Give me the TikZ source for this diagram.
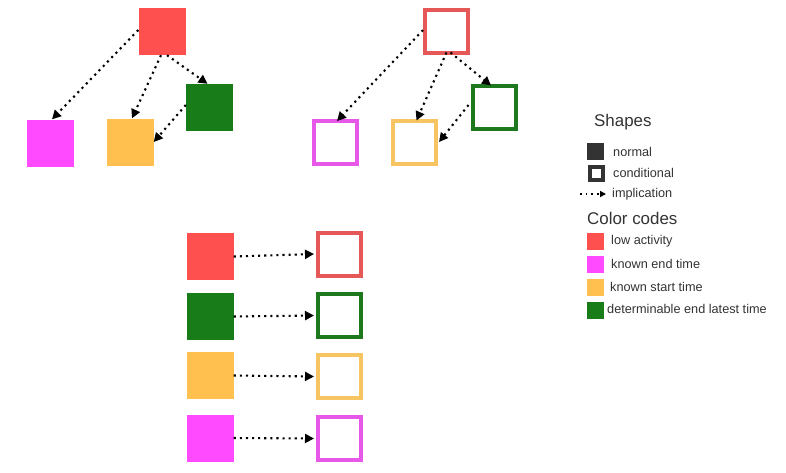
\documentclass[tikz,border=0pt]{standalone}
\usepackage{fontspec}
\setmainfont{Liberation Sans}
\usetikzlibrary{arrows.meta,calc}
\definecolor{cRed}{RGB}{255,80,80}
\definecolor{cRedO}{RGB}{230,88,88}
\definecolor{cMag}{RGB}{255,74,255}
\definecolor{cMagO}{RGB}{232,88,232}
\definecolor{cYel}{RGB}{255,192,80}
\definecolor{cYelO}{RGB}{246,196,96}
\definecolor{cGrn}{RGB}{24,125,24}
\definecolor{cGrnO}{RGB}{30,120,30}
\definecolor{cDark}{RGB}{51,51,51}
\tikzset{
  fillbox/.style={rectangle, minimum size=47pt, inner sep=0pt, fill=#1},
  outbox/.style={rectangle, minimum size=43pt, inner sep=0pt, draw=#1, line width=4pt, fill=white},
  impl/.style={line width=2.1pt, dash pattern=on 2.1pt off 4pt, -{Triangle[length=9pt,width=9pt]}},
  legbox/.style={rectangle, minimum size=17pt, inner sep=0pt, fill=#1},
  legtext/.style={anchor=west, inner sep=0pt, font=\fontsize{12.7}{14}\selectfont, text=cDark},
  leghead/.style={anchor=west, inner sep=0pt, font=\fontsize{16.9}{19}\selectfont, text=cDark}
}
\begin{document}
\begin{tikzpicture}[x=1pt,y=-1pt]
\useasboundingbox[fill=white] (0,0) rectangle (786,472);
% top-left group (normal)
\node[fillbox=cRed] (a1) at (162,31.5) {};
\node[fillbox=cMag] (a2) at (50.5,143) {};
\node[fillbox=cYel] (a3) at (130,142) {};
\node[fillbox=cGrn] (a4) at (209.5,107.5) {};
\draw[impl] ([yshift=1.5pt]a1.west) -- ([xshift=1.5pt]a2.north);
\draw[impl] ([xshift=-1pt]a1.south) -- ([xshift=2pt]a3.north);
\draw[impl] ([xshift=5pt]a1.south) -- ([xshift=-2pt]a4.north);
\draw[impl] ([yshift=2.5pt]a4.west) -- (a3.east);
% top-right group (conditional)
\node[outbox=cRedO] (b1) at (446.5,31) {};
\node[outbox=cMagO] (b2) at (335,142.5) {};
\node[outbox=cYelO] (b3) at (414.5,142) {};
\node[outbox=cGrnO] (b4) at (494,107) {};
\draw[impl] ([yshift=1pt]b1.west) -- ([xshift=2pt,yshift=-2pt]b2.north);
\draw[impl] ([xshift=0pt,yshift=2pt]b1.south) -- ([xshift=2pt,yshift=-2pt]b3.north);
\draw[impl] ([xshift=4pt,yshift=2pt]b1.south) -- ([xshift=-3pt,yshift=-2pt]b4.north);
\draw[impl] ([xshift=-2pt,yshift=2pt]b4.west) -- ([xshift=1pt]b3.east);
% bottom pairs
\node[fillbox=cRed] (c1) at (210,256.5) {};
\node[fillbox=cGrn] (c2) at (210,316.5) {};
\node[fillbox=cYel] (c3) at (210,375.5) {};
\node[fillbox=cMag] (c4) at (210,438) {};
\node[outbox=cRedO] (d1) at (339.5,254) {};
\node[outbox=cGrnO] (d2) at (339.5,315.5) {};
\node[outbox=cYelO] (d3) at (339.5,376.5) {};
\node[outbox=cMagO] (d4) at (339.5,438.5) {};
\draw[impl] (c1.east) -- ([xshift=-2pt]d1.west);
\draw[impl] (c2.east) -- ([xshift=-2pt]d2.west);
\draw[impl] (c3.east) -- ([xshift=-2pt]d3.west);
\draw[impl] (c4.east) -- ([xshift=-2pt]d4.west);
% legend
\node[leghead] (hs) at (594,122) {Shapes};
\node[legbox=cDark] (ln) at (595.5,151) {};
\node[legtext] (tn) at (613,152) {normal};
\node[rectangle, minimum size=13pt, inner sep=0pt, draw=cDark, line width=4pt, fill=white] (lc) at (596,173.5) {};
\node[legtext] (tc) at (613,173) {conditional};
\coordinate (i1) at (580,194);
\coordinate (i2) at (606,194);
\draw[line width=1.7pt, dash pattern=on 1.7pt off 4pt, -{Triangle[length=6pt,width=6pt]}] (i1) -- (i2);
\node[legtext] (ti) at (612,194) {implication};
\node[leghead] (hc) at (587,218) {Color codes};
\node[legbox=cRed] (l1) at (595.5,241) {};
\node[legtext] (t1) at (611,241) {low activity};
\node[legbox=cMag] (l2) at (595.5,264) {};
\node[legtext] (t2) at (611,264) {known end time};
\node[legbox=cYel] (l3) at (595.5,287.5) {};
\node[legtext] (t3) at (610,287) {known start time};
\node[legbox=cGrn] (l4) at (595.5,310) {};
\node[legtext] (t4) at (607,309) {determinable end latest time};
\end{tikzpicture}
\end{document}
